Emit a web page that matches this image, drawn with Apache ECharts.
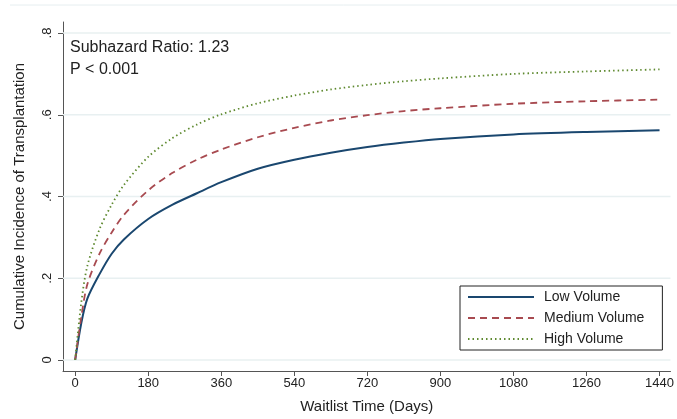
<!DOCTYPE html>
<html lang="en">
<head>
    <meta charset="UTF-8">
    <title>Cumulative Incidence of Transplantation</title>
    <script src="https://cdn.jsdelivr.net/npm/echarts@6/dist/echarts.min.js"></script>
    <style>
        body { margin: 0; background: #fff; }
    </style>
</head>
<body>
    <div id="main" style="width: 677px;height:419px;"></div>
    <script type="text/javascript">
        var days = [0, 15, 30, 60, 90, 120, 180, 240, 300, 360, 450, 540, 630, 720, 810, 900, 1080, 1260, 1440];
        var lowVolume = [0, 0.09, 0.15, 0.21, 0.26, 0.295, 0.345, 0.38, 0.408, 0.435, 0.468, 0.49, 0.507, 0.521, 0.532, 0.541, 0.552, 0.558, 0.562];
        var mediumVolume = [0, 0.105, 0.185, 0.26, 0.312, 0.355, 0.415, 0.458, 0.49, 0.515, 0.545, 0.568, 0.586, 0.599, 0.609, 0.616, 0.627, 0.633, 0.637];
        var highVolume = [0, 0.14, 0.23, 0.32, 0.38, 0.428, 0.497, 0.543, 0.576, 0.601, 0.628, 0.647, 0.662, 0.673, 0.682, 0.689, 0.70, 0.706, 0.711];
        var xTicks = [0, 180, 360, 540, 720, 900, 1080, 1260, 1440];
        var yTicks = [0, 0.2, 0.4, 0.6, 0.8];

        var xMin = -30, xMax = 1467;

        function pairs(ys) {
            return days.map(function (d, i) { return [d, ys[i]]; });
        }

        var font = 'Liberation Sans, Arial, sans-serif';
        var myChart = echarts.init(document.getElementById('main'));

        // light horizontal gridlines, drawn as flat line series under the curves
        var gridSeries = yTicks.map(function (v) {
            return {
                name: 'grid' + v, type: 'line', symbol: 'none', silent: true, z: 1,
                data: [[xMin, v], [xMax, v]],
                lineStyle: { color: '#e8f0f1', width: 1.5 }
            };
        });

        var curveSeries = [
            {
                name: 'Low Volume', type: 'line', smooth: 0.3, symbol: 'none',
                data: pairs(lowVolume),
                lineStyle: { color: '#1a476f', width: 2 },
                itemStyle: { color: '#1a476f' },
                z: 3
            },
            {
                name: 'Medium Volume', type: 'line', smooth: 0.3, symbol: 'none',
                data: pairs(mediumVolume),
                lineStyle: { color: '#a84a50', width: 1.8, type: [7, 5] },
                itemStyle: { color: '#a84a50' },
                z: 3
            },
            {
                name: 'High Volume', type: 'line', smooth: 0.3, symbol: 'none',
                data: pairs(highVolume),
                lineStyle: { color: '#5f8a30', width: 1.8, type: [1.5, 3] },
                itemStyle: { color: '#5f8a30' },
                z: 3
            }
        ];

        myChart.setOption({
            animation: false,
            textStyle: { fontFamily: font },
            grid: { left: 63, right: 4, top: 22, bottom: 46 },
            graphic: [
                { type: 'line', shape: { x1: 10, y1: 5, x2: 677, y2: 5 }, style: { stroke: '#e6eef0', lineWidth: 1 } },
                {
                    type: 'text', left: 70, top: 37, z: 10,
                    style: { text: 'Subhazard Ratio: 1.23\nP < 0.001', font: '16px ' + font, fill: '#222', lineHeight: 22 }
                }
            ],
            legend: {
                orient: 'vertical',
                left: 460, top: 286,
                width: 213,
                borderColor: '#222', borderWidth: 1,
                padding: [4, 18, 4, 7],
                itemWidth: 66, itemHeight: 16, itemGap: 7,
                itemStyle: { opacity: 0 },
                textStyle: { fontSize: 14, color: '#222', padding: [0, 0, 0, 5] },
                data: ['Low Volume', 'Medium Volume', 'High Volume']
            },
            xAxis: {
                type: 'value',
                min: xMin, max: xMax,
                name: 'Waitlist Time (Days)',
                nameLocation: 'middle', nameGap: 28,
                nameTextStyle: { fontSize: 15, color: '#222' },
                axisLine: { onZero: false, lineStyle: { color: '#555' } },
                axisTick: { length: 5, customValues: xTicks, lineStyle: { color: '#555' } },
                axisLabel: {
                    customValues: xTicks, fontSize: 13, color: '#222', margin: 6,
                    formatter: function (v) { return String(v); }
                },
                splitLine: { show: false }
            },
            yAxis: {
                type: 'value',
                min: -0.027, max: 0.827,
                name: 'Cumulative Incidence of Transplantation',
                nameLocation: 'middle', nameGap: 36,
                nameTextStyle: { fontSize: 15, color: '#222' },
                axisLine: { show: true, onZero: false, lineStyle: { color: '#555' } },
                axisTick: { show: true, length: 5, customValues: yTicks, lineStyle: { color: '#555' } },
                axisLabel: {
                    customValues: yTicks, fontSize: 13, color: '#222', rotate: 90, margin: 9,
                    formatter: function (v) { return v === 0 ? '0' : String(v).replace(/^0/, ''); }
                },
                splitLine: { show: false }
            },
            series: gridSeries.concat(curveSeries)
        });
    </script>
</body>
</html>
